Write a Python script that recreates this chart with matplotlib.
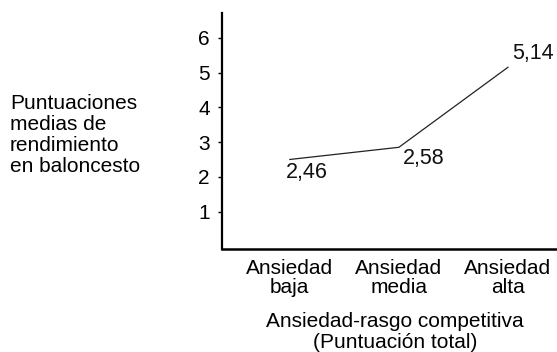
import matplotlib
matplotlib.use("Agg")
import matplotlib.pyplot as plt

plt.rcParams['font.family'] = ['Liberation Sans', 'DejaVu Sans']

categories = ["Ansiedad\nbaja", "Ansiedad\nmedia", "Ansiedad\nalta"]
values = [2.50, 2.85, 5.15]
value_labels = ["2,46", "2,58", "5,14"]
y_ticks = [1, 2, 3, 4, 5, 6]
y_label = "Puntuaciones\nmedias de\nrendimiento\nen baloncesto"
x_label = "Ansiedad-rasgo competitiva\n(Puntuación total)"

fig = plt.figure(figsize=(5.57, 3.52), dpi=100)
ax = fig.add_axes([0.399, 0.293, 0.601, 0.670])

x = list(range(len(categories)))
ax.plot(x, values, color='#222222', linewidth=0.9)

offsets = [(17, -13), (25, -11), (25, 14)]
for xi, v, lab, off in zip(x, values, value_labels, offsets):
    ax.annotate(lab, (xi, v), xytext=off, textcoords='offset pixels',
                ha='center', va='center', fontsize=15.5, color='#111111')

ax.set_xlim(-0.62, 2.45)
ax.set_ylim(-0.07, 6.71)
ax.set_yticks(y_ticks)
ax.set_yticklabels([str(t) for t in y_ticks], fontsize=15)
ax.set_xticks(x)
ax.set_xticklabels(categories, fontsize=15, linespacing=1.0)
ax.tick_params(axis='x', length=0, pad=7)
ax.tick_params(axis='y', length=3, width=1, pad=6, direction='out')

for s in ['top', 'right']:
    ax.spines[s].set_visible(False)
ax.spines['left'].set_linewidth(1.6)
ax.spines['bottom'].set_linewidth(1.8)

fig.text(10/557, 1 - 135/352, y_label, ha='left', va='center', fontsize=15,
         linespacing=1.13)
fig.text(395/557, 1 - 332/352, x_label, ha='center', va='center', fontsize=15,
         linespacing=1.1)

fig.savefig("out.png", dpi=100)
